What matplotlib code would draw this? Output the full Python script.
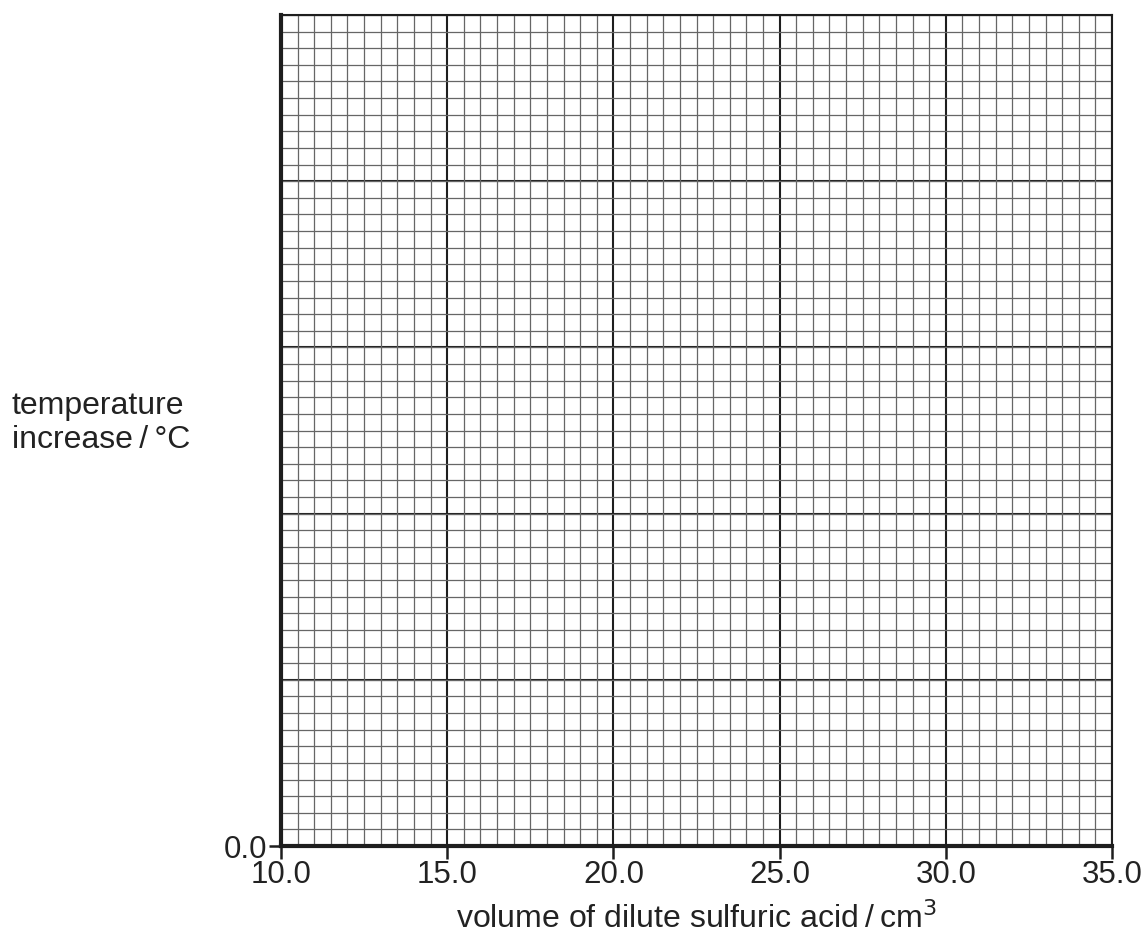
import numpy as np
import matplotlib
matplotlib.use("Agg")
import matplotlib.pyplot as plt
from matplotlib.ticker import MultipleLocator

plt.rcParams['font.family'] = ['Liberation Sans', 'DejaVu Sans']

# axis ranges and labels
x_min, x_max = 10.0, 35.0
x_major = [10.0, 15.0, 20.0, 25.0, 30.0, 35.0]
x_labels = ['10.0', '15.0', '20.0', '25.0', '30.0', '35.0']
y_min, y_max = 0.0, 5.0
y_labels = ['0.0']

fig = plt.figure(figsize=(11.44, 9.39), dpi=100, facecolor='white')
ax = fig.add_axes([281/1144, 1 - 846/939, (1112 - 281)/1144, (846 - 15)/939])
ax.set_xlim(x_min, x_max)
ax.set_ylim(y_min, y_max)

# graph paper: minor every 1/10 of a major square
ax.xaxis.set_minor_locator(MultipleLocator(0.5))
ax.yaxis.set_minor_locator(MultipleLocator(0.1))
ax.set_xticks(x_major)
ax.set_xticklabels(x_labels)
ax.grid(which='minor', color='#666666', lw=0.9)
ax.grid(which='major', axis='x', color='#1e1e1e', lw=1.5)
ax.set_axisbelow(True)

ax.set_yticks([y_min])
ax.set_yticklabels(y_labels)
# keep major horizontal lines even without y ticks
for yv in np.arange(1.0, y_max + 0.01, 1.0):
    ax.axhline(yv, color='#1e1e1e', lw=1.5, zorder=0.5)

ax.tick_params(which='minor', length=0)
ax.tick_params(which='major', direction='out', length=9, width=1.8,
               labelsize=22.5, pad=1, color='#1e1e1e', labelcolor='#222222')
for s in ax.spines.values():
    s.set_linewidth(1.5)
    s.set_color('#1e1e1e')
ax.spines['left'].set_linewidth(3)
ax.spines['bottom'].set_linewidth(3)

ax.set_xlabel('volume of dilute sulfuric acid\u2009/\u2009cm$^3$', fontsize=23, labelpad=9, color='#222222')
fig.text(12/1144, 1 - 423/939, 'temperature\nincrease\u2009/\u2009°C', fontsize=23,
         ha='left', va='center', color='#222222', linespacing=1.2)

fig.savefig('out.png', dpi=100, facecolor='white')
